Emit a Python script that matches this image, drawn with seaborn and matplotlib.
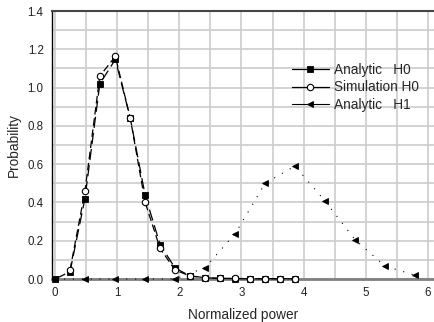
import numpy as np
import pandas as pd
import seaborn as sns
import matplotlib.pyplot as plt

x_h0 = [0.0, 0.24, 0.48, 0.72, 0.97, 1.21, 1.45, 1.69, 1.93, 2.17, 2.41, 2.66, 2.90, 3.14, 3.38, 3.62, 3.86]
analytic_h0 = [0.0, 0.038, 0.42, 1.02, 1.147, 0.84, 0.437, 0.18, 0.058, 0.016, 0.007, 0.003, 0.002, 0.001, 0.001, 0.001, 0.001]
x_sim = x_h0[1:]
simulation_h0 = [0.047, 0.458, 1.06, 1.163, 0.84, 0.40, 0.16, 0.047, 0.016, 0.007, 0.003, 0.003, 0.002, 0.002, 0.002, 0.002]
x_h1 = [0.0, 0.48, 0.97, 1.45, 1.93, 2.41, 2.90, 3.38, 3.86, 4.34, 4.83, 5.31, 5.79]
analytic_h1 = [0.0, 0.0, 0.0, 0.0, 0.0, 0.058, 0.237, 0.50, 0.59, 0.41, 0.205, 0.068, 0.02]

sns.set_style("white")
plt.rcParams['font.family'] = ['Liberation Sans', 'DejaVu Sans']

fig = plt.figure(figsize=(4.35, 3.22), dpi=100)
ax = fig.add_axes([52/435, 1-279/322, (434-52)/435, (279-11)/322])

sns.lineplot(x=x_h0, y=analytic_h0, ax=ax, color="black", lw=0.9, ls=(0, (9, 4)),
             marker="s", markersize=4.2, markeredgewidth=0.6, mfc="black", mec="black",
             label="Analytic   H0", clip_on=False, zorder=3)
sns.lineplot(x=x_sim, y=simulation_h0, ax=ax, color="black", lw=0.9, ls=(0, (6, 3)),
             marker="o", markersize=4.6, markeredgewidth=0.8, mfc="white", mec="black",
             label="Simulation H0", clip_on=False, zorder=4)
sns.lineplot(x=x_h1, y=analytic_h1, ax=ax, color="black", lw=0.8, ls=(0, (1, 7)),
             marker="<", markersize=5, markeredgewidth=0.6, mfc="black", mec="black",
             label="Analytic   H1", clip_on=False, zorder=3)

ax.set_xlim(-0.05, 6.1)
ax.set_ylim(0, 1.4)
ax.set_xticks(np.arange(0, 7, 1))
ax.set_xticks(np.arange(0, 6.5, 0.5), minor=True)
ax.set_yticks(np.arange(0, 1.41, 0.2))
ax.set_yticks(np.arange(0, 1.41, 0.1), minor=True)
ax.set_yticklabels(["%.1f" % v for v in np.arange(0, 1.41, 0.2)])

ax.grid(True, which="both", color="#cccccc", lw=1.2)
ax.set_axisbelow(True)

ax.spines["right"].set_visible(False)
ax.spines["left"].set_color("black")
ax.spines["left"].set_linewidth(1.0)
ax.spines["top"].set_color("#444444")
ax.spines["top"].set_linewidth(1.5)
ax.spines["bottom"].set_color("#808080")
ax.spines["bottom"].set_linewidth(2.0)

ax.tick_params(axis="y", which="major", direction="inout", length=6, width=0.8, labelsize=8.3, pad=3, colors="black")
ax.tick_params(axis="y", which="minor", direction="in", length=4, width=0.8)
ax.tick_params(axis="x", which="both", direction="inout", length=5, width=0.8, labelsize=8.3, pad=3, colors="black")
ax.tick_params(axis="both", labelcolor="#222222")

ax.set_xlabel("Normalized power", fontsize=9.8, labelpad=7)
ax.set_ylabel("Probability", fontsize=9.8, labelpad=5)

ax.legend(loc="upper left", bbox_to_anchor=(292/435, 1-63/322), bbox_transform=fig.transFigure,
          frameon=False, fontsize=9.8, handlelength=2.7, handletextpad=0.35, labelspacing=0.25,
          borderpad=0, borderaxespad=0)
for line in ax.get_legend().get_lines():
    line.set_linestyle("-")

plt.savefig("out.png", dpi=100)
